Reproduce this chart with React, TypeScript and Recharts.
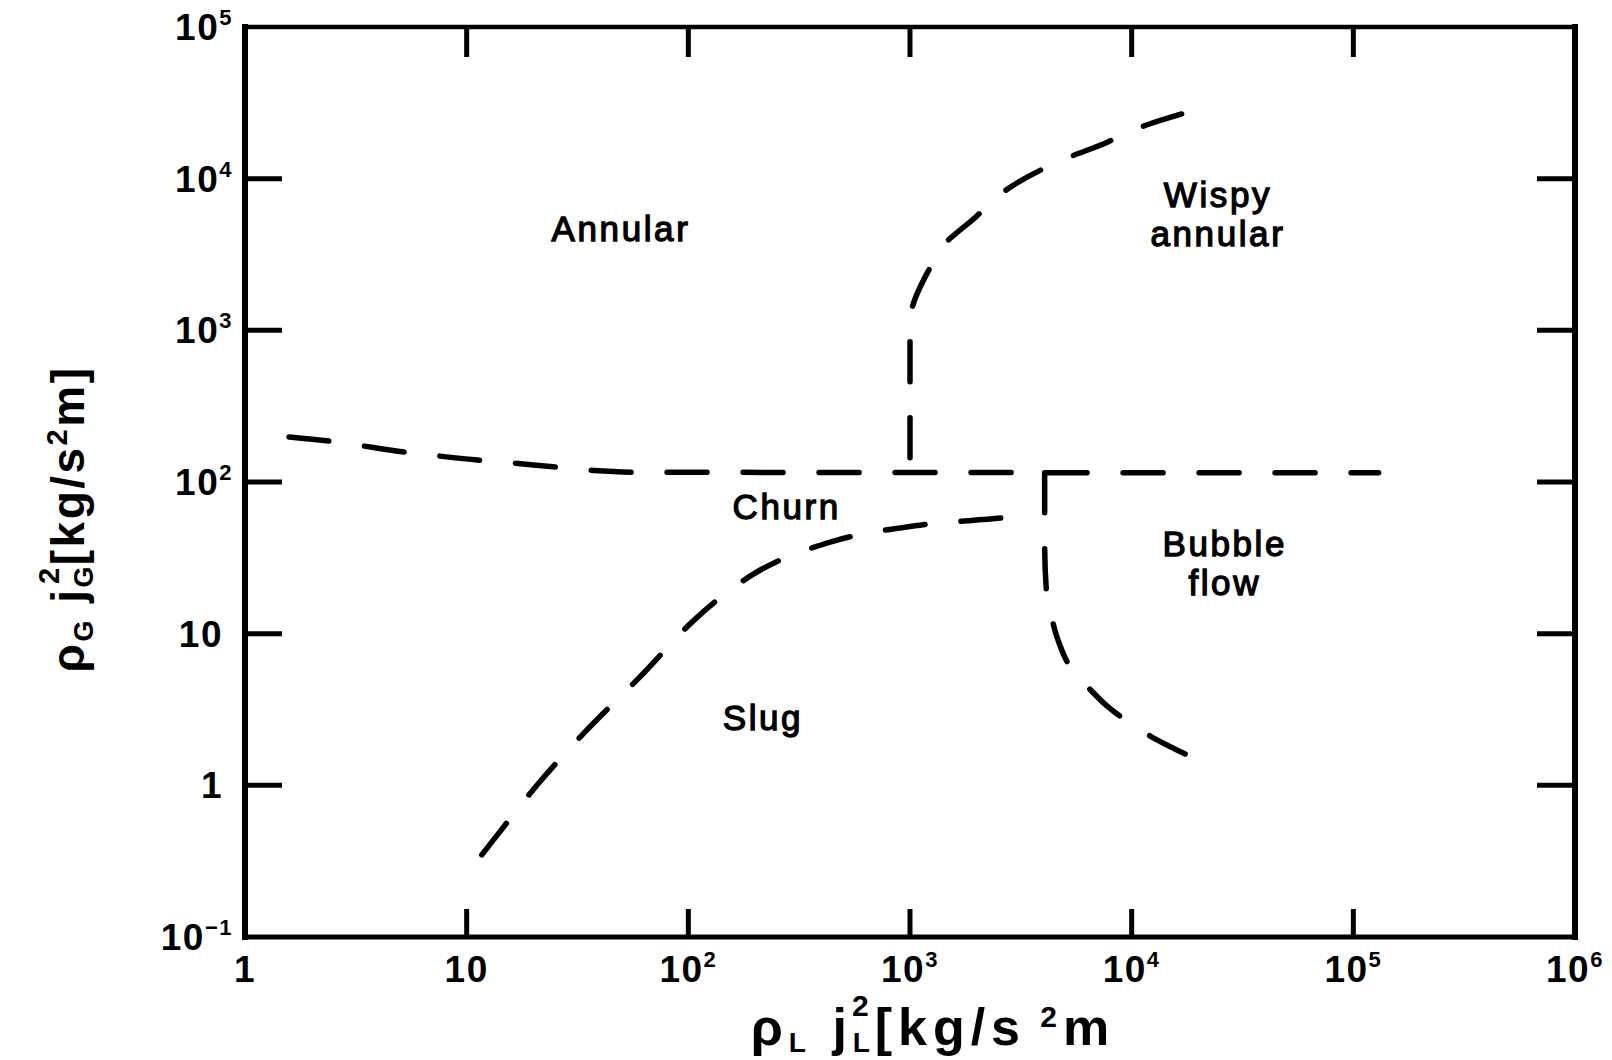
import React from 'react';
import { LineChart, Line, XAxis, YAxis, ReferenceDot, Customized } from 'recharts';

// ---- axes ----
const xTicks = [1, 10, 100, 1000, 10000, 100000, 1000000];
const xTickBase = ['1', '10', '10', '10', '10', '10', '10'];
const xTickExp = ['', '', '2', '3', '4', '5', '6'];
const yTicks = [0.1, 1, 10, 100, 1000, 10000, 100000];
const yTickBase = ['10', '1', '10', '10', '10', '10', '10'];
const yTickExp = ['\u22121', '', '', '2', '3', '4', '5'];

// ---- boundaries (x = rhoL jL^2, y = rhoG jG^2) ----
// Annular / churn boundary continuing as the horizontal line
const annularChurn = [
  { x: 1.58, y: 198 },
  { x: 2.4, y: 186 },
  { x: 3.0, y: 178 },
  { x: 4.8, y: 160 },
  { x: 7.0, y: 150 },
  { x: 10.9, y: 140 },
  { x: 14, y: 136 },
  { x: 24.5, y: 126 },
  { x: 37.5, y: 119 },
  { x: 60, y: 116 },
  { x: 130000, y: 115 },
];
// Annular / wispy-annular boundary
const wispyBoundary = [
  { x: 16800, y: 26700 },
  { x: 9620, y: 20300 },
  { x: 7810, y: 17460 },
  { x: 5000, y: 13500 },
  { x: 3980, y: 11600 },
  { x: 2490, y: 7690 },
  { x: 2004, y: 5680 },
  { x: 1393, y: 3550 },
  { x: 1230, y: 2580 },
  { x: 1030, y: 1460 },
  { x: 1000, y: 1200 },
  { x: 1000, y: 115 },
];
// Slug / bubble boundary
const bubbleBoundary = [
  { x: 4050, y: 115 },
  { x: 4050, y: 40 },
  { x: 4120, y: 19.5 },
  { x: 4300, y: 14 },
  { x: 4650, y: 9.1 },
  { x: 5300, y: 6.0 },
  { x: 6480, y: 4.3 },
  { x: 8000, y: 3.2 },
  { x: 10120, y: 2.5 },
  { x: 12080, y: 2.12 },
  { x: 17740, y: 1.59 },
];
// Slug / churn boundary
const slugChurn = [
  { x: 11.7, y: 0.348 },
  { x: 13.1, y: 0.43 },
  { x: 21.2, y: 1.04 },
  { x: 34.9, y: 2.32 },
  { x: 61.1, y: 5.27 },
  { x: 105, y: 12.1 },
  { x: 194, y: 24.4 },
  { x: 440, y: 40.3 },
  { x: 1052, y: 51.4 },
  { x: 2624, y: 58.0 },
  { x: 3550, y: 60.7 },
];

// ---- region names ----
const regionNames = [['Annular'], ['Wispy', 'annular'], ['Churn'], ['Slug'], ['Bubble', 'flow']];
const regionX = [49.7, 24500, 278, 217, 26300];
const regionY = [4660, 5770, 68.5, 2.79, 28.8];

const F = "'Liberation Sans', Arial, Helvetica, sans-serif";
const W = 1612;
const H = 1060;

const TickText = ({ x, y, base, exp, anchor }: any) => (
  <text
    x={x}
    y={y}
    textAnchor={anchor}
    fontFamily={F}
    fontWeight="bold"
    fontSize={37}
    letterSpacing={1.5}
    fill="#000"
  >
    {base}
    {exp ? (
      <tspan dy={-15} fontSize={22}>
        {exp}
      </tspan>
    ) : null}
  </text>
);

const BottomTick = (props: any) => {
  const { x, y, payload } = props;
  const i = xTicks.indexOf(payload.value);
  const inner = i > 0 && i < xTicks.length - 1;
  return (
    <g>
      {inner && <line x1={x} x2={x} y1={y} y2={y - 28} stroke="#000" strokeWidth={5} />}
      <TickText x={x} y={y + 45} base={xTickBase[i]} exp={xTickExp[i]} anchor="middle" />
    </g>
  );
};

const TopTick = (props: any) => {
  const { x, y, payload } = props;
  const i = xTicks.indexOf(payload.value);
  const inner = i > 0 && i < xTicks.length - 1;
  return <g>{inner && <line x1={x} x2={x} y1={y} y2={y + 30} stroke="#000" strokeWidth={5} />}</g>;
};

const LeftTick = (props: any) => {
  const { x, y, payload } = props;
  const i = yTicks.indexOf(payload.value);
  const inner = i > 0 && i < yTicks.length - 1;
  const exp = yTickExp[i];
  return (
    <g>
      {inner && <line x1={x} x2={x + 37} y1={y} y2={y} stroke="#000" strokeWidth={5} />}
      <TickText x={exp ? x - 12 : x - 22} y={y + 13} base={yTickBase[i]} exp={exp} anchor="end" />
    </g>
  );
};

const RightTick = (props: any) => {
  const { x, y, payload } = props;
  const i = yTicks.indexOf(payload.value);
  const inner = i > 0 && i < yTicks.length - 1;
  return <g>{inner && <line x1={x} x2={x - 38} y1={y} y2={y} stroke="#000" strokeWidth={5} />}</g>;
};

const regionShape = (lines: string[]) => (props: any) => {
  const { cx, cy } = props;
  const n = lines.length;
  const lh = 39;
  return (
    <g>
      {lines.map((l, k) => (
        <text
          key={k}
          x={cx}
          y={cy + (k - (n - 1) / 2) * lh + 12}
          textAnchor="middle"
          fontFamily={F}
          fontSize={35}
          letterSpacing={2.6}
          fill="#000"
          stroke="#000"
          strokeWidth={1.3}
        >
          {l}
        </text>
      ))}
    </g>
  );
};

const Titles = () => (
  <g>
    <text
      x={933}
      y={1045}
      textAnchor="middle"
      fontFamily={F}
      fontWeight="bold"
      fontSize={52}
      letterSpacing={6}
      fill="#000"
    >
      ρ
      <tspan dy={7} fontSize={28}>L</tspan>
      <tspan dy={-7}> j</tspan>
      <tspan dy={7} fontSize={28}>L</tspan>
      <tspan dx={-24} dy={-36} fontSize={30}>2</tspan>
      <tspan dy={29}>[kg/s</tspan>
      <tspan dy={-18} fontSize={30}> 2</tspan>
      <tspan dy={18}>m</tspan>
    </text>
    <text
      transform="translate(84,519) rotate(-90)"
      textAnchor="middle"
      fontFamily={F}
      fontWeight="bold"
      fontSize={46}
      letterSpacing={2.5}
      fill="#000"
    >
      ρ
      <tspan dy={9} fontSize={27}>G</tspan>
      <tspan dy={-9}> j</tspan>
      <tspan dy={9} fontSize={27}>G</tspan>
      <tspan dx={-20} dy={-34} fontSize={29}>2</tspan>
      <tspan dy={25}>[kg/s</tspan>
      <tspan dy={-17} fontSize={29}>2</tspan>
      <tspan dy={17}>m]</tspan>
    </text>
  </g>
);

const lineProps = {
  dataKey: 'y',
  stroke: '#000',
  strokeWidth: 5.5,
  strokeDasharray: '40 36',
  strokeLinecap: 'round' as const,
  dot: false,
  activeDot: false,
  isAnimationActive: false,
  legendType: 'none' as const,
};

export default function App() {
  return (
    <div style={{ position: 'absolute', left: 0, top: 0, width: W, height: H, background: '#fff' }}>
      <LineChart width={W} height={H} margin={{ top: 0, right: 0, bottom: 0, left: 0 }}>
        <XAxis
          dataKey="x"
          type="number"
          scale="log"
          domain={[1, 1000000]}
          allowDataOverflow
          ticks={xTicks}
          interval={0}
          height={123}
          tickSize={0}
          tickMargin={0}
          tickLine={false}
          tick={BottomTick}
          axisLine={{ stroke: '#000', strokeWidth: 5, strokeLinecap: 'square' }}
        />
        <XAxis
          xAxisId="top"
          orientation="top"
          dataKey="x"
          type="number"
          scale="log"
          domain={[1, 1000000]}
          allowDataOverflow
          ticks={xTicks}
          interval={0}
          height={27}
          tickSize={0}
          tickMargin={0}
          tickLine={false}
          tick={TopTick}
          axisLine={{ stroke: '#000', strokeWidth: 4.5, strokeLinecap: 'square' }}
        />
        <YAxis
          dataKey="y"
          type="number"
          scale="log"
          domain={[0.1, 100000]}
          allowDataOverflow
          ticks={yTicks}
          interval={0}
          width={245}
          tickSize={0}
          tickMargin={0}
          tickLine={false}
          tick={LeftTick}
          axisLine={{ stroke: '#000', strokeWidth: 6, strokeLinecap: 'square' }}
        />
        <YAxis
          yAxisId="right"
          orientation="right"
          dataKey="y"
          type="number"
          scale="log"
          domain={[0.1, 100000]}
          allowDataOverflow
          ticks={yTicks}
          interval={0}
          width={37}
          tickSize={0}
          tickMargin={0}
          tickLine={false}
          tick={RightTick}
          axisLine={{ stroke: '#000', strokeWidth: 6, strokeLinecap: 'square' }}
        />
        <Line data={annularChurn} type="monotone" {...lineProps} />
        <Line data={wispyBoundary} type="monotoneY" {...lineProps} />
        <Line data={bubbleBoundary} type="monotoneY" {...lineProps} />
        <Line data={slugChurn} type="monotone" {...lineProps} />
        {regionNames.map((lines, k) => (
          <ReferenceDot
            key={k}
            x={regionX[k]}
            y={regionY[k]}
            r={0}
            ifOverflow="visible"
            shape={regionShape(lines)}
          />
        ))}
        <Customized component={<Titles />} />
      </LineChart>
    </div>
  );
}
